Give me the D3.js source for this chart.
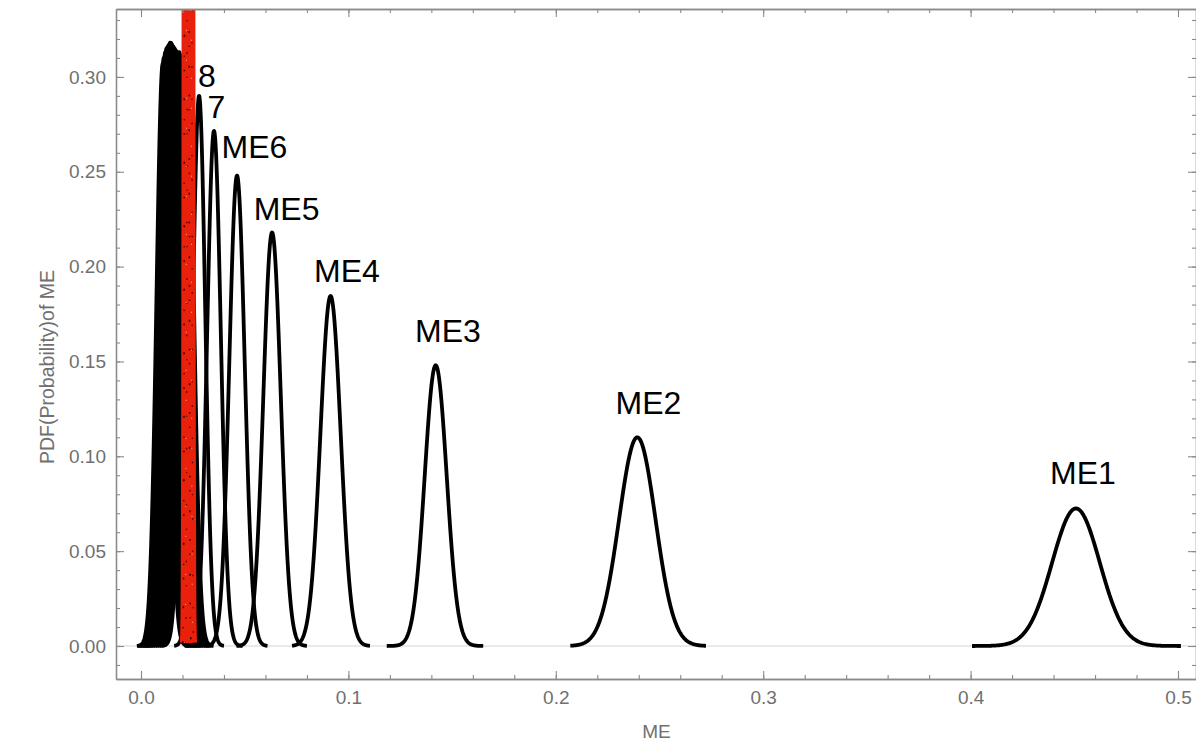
<!DOCTYPE html>
<html>
<head>
<meta charset="utf-8">
<script src="https://cdn.jsdelivr.net/npm/d3@7"></script>
<style>
  body { margin: 0; background: #fff; }
  svg text { font-family: "Liberation Sans", Arial, Helvetica, sans-serif; }
</style>
</head>
<body>
<script>
// Kurvor med etikett (ME1 ... 8)
var curveNames = ["ME1", "ME2", "ME3", "ME4", "ME5", "ME6", "7", "8"];
var curveMeans = [0.4508, 0.2393, 0.1421, 0.0914, 0.0632, 0.0463, 0.0352, 0.0280];
var curvePeaks = [0.0725, 0.1100, 0.1480, 0.1845, 0.2180, 0.2480, 0.2715, 0.2900];
var curveSDs   = [0.0115, 0.0088, 0.0053, 0.0049, 0.0042, 0.0037, 0.0033, 0.0030];
var curveStart = [0.4007, 0.2070, 0.1185, 0.0728, 0.0460, 0.0310, 0.0210, 0.0160];
var curveEnd   = [0.5014, 0.2724, 0.1650, 0.1104, 0.0800, 0.0610, 0.0490, 0.0400];
var labelX     = [0.4542, 0.2447, 0.1480, 0.0993, 0.0702, 0.0547, 0.0364, 0.0318];
var labelY     = [0.0854, 0.1224, 0.1603, 0.1920, 0.2247, 0.2574, 0.2785, 0.2948];

// Klungan av omärkta kurvor nära noll
var clusterMeans = [0.0105, 0.0110, 0.0117, 0.0123, 0.0129, 0.0135, 0.0140, 0.0145, 0.0150,
                    0.0156, 0.0162, 0.0168, 0.0176, 0.0185, 0.0195, 0.0205, 0.0215, 0.0225];
var clusterPeaks = [0.307, 0.310, 0.313, 0.315, 0.316, 0.317, 0.318, 0.318, 0.317,
                    0.316, 0.315, 0.314, 0.313, 0.313, 0.311, 0.310, 0.306, 0.302];
var clusterSD = 0.0030;
var clusterHalfSpan = 0.0125;

// Röd (brusig) kurva
var redMean = 0.0229, redSD = 0.0005, redPeak = 5;

// Axlar
var xMajorTicks = [0, 0.1, 0.2, 0.3, 0.4, 0.5];
var xMinorTicks = d3.range(0, 0.5001, 0.02);
var yMajorTicks = [0, 0.05, 0.10, 0.15, 0.20, 0.25, 0.30];
var yMinorTicks = d3.range(-0.01, 0.3301, 0.01);
var xTitle = "ME";
var yTitle = "PDF(Probability)of ME";

var width = 1196, height = 744;
var plotLeft = 116, plotRight = 1197, plotTop = 9, plotBottom = 679;

var xScale = d3.scaleLinear().domain([-0.01205, 0.50916]).range([plotLeft, plotRight]);
var yScale = d3.scaleLinear().domain([-0.0174, 0.3358]).range([plotBottom, plotTop]);

var svg = d3.select("body").append("svg")
    .attr("width", width)
    .attr("height", height);

svg.append("defs").append("clipPath").attr("id", "plotClip")
  .append("rect")
    .attr("x", plotLeft).attr("y", plotTop)
    .attr("width", plotRight - plotLeft).attr("height", plotBottom - plotTop);

// nollinje
svg.append("line")
    .attr("x1", plotLeft).attr("x2", plotRight)
    .attr("y1", yScale(0)).attr("y2", yScale(0))
    .attr("stroke", "#d4d4d4").attr("stroke-width", 1);

function gauss(mu, sd, peak, x) {
    return peak * Math.exp(-(x - mu) * (x - mu) / (2 * sd * sd));
}

function curvePoints(mu, sd, peak, x0, x1) {
    var pts = [];
    var n = 240;
    for (var i = 0; i <= n; i++) {
        var x = x0 + (x1 - x0) * i / n;
        pts.push([x, gauss(mu, sd, peak, x)]);
    }
    return pts;
}

var line = d3.line()
    .x(function(d) { return xScale(d[0]); })
    .y(function(d) { return yScale(d[1]); });

var plot = svg.append("g").attr("clip-path", "url(#plotClip)");

// klungan
plot.selectAll("path.cluster").data(clusterMeans).enter()
  .append("path")
    .attr("class", "cluster")
    .attr("d", function(mu, i) {
        return line(curvePoints(mu, clusterSD, clusterPeaks[i], mu - clusterHalfSpan, mu + clusterHalfSpan));
    })
    .attr("fill", "none")
    .attr("stroke", "#000")
    .attr("stroke-width", 3.8)
    .attr("stroke-linejoin", "round");

// märkta kurvor
plot.selectAll("path.me").data(curveMeans).enter()
  .append("path")
    .attr("class", "me")
    .attr("d", function(mu, i) {
        return line(curvePoints(mu, curveSDs[i], curvePeaks[i], curveStart[i], curveEnd[i]));
    })
    .attr("fill", "none")
    .attr("stroke", "#000")
    .attr("stroke-width", 3.8)
    .attr("stroke-linejoin", "round");

// röd kurva: tjockt rött band med små mörka och ljusa prickar
var redPath = line(curvePoints(redMean, redSD, redPeak, redMean - 0.002, redMean + 0.002));
plot.append("path")
    .attr("d", redPath)
    .attr("fill", "none")
    .attr("stroke", "#e8200c")
    .attr("stroke-width", 9);
plot.append("path")
    .attr("d", line(curvePoints(redMean - 0.0008, redSD, redPeak, redMean - 0.0028, redMean + 0.0012)))
    .attr("fill", "none")
    .attr("stroke", "#200000")
    .attr("stroke-width", 1.5)
    .attr("stroke-dasharray", "1.5 13 1 19 2 27");
plot.append("path")
    .attr("d", line(curvePoints(redMean + 0.0005, redSD, redPeak, redMean - 0.0015, redMean + 0.0025)))
    .attr("fill", "none")
    .attr("stroke", "#300000")
    .attr("stroke-width", 1.2)
    .attr("stroke-dasharray", "1 23 1.5 31");
plot.append("path")
    .attr("d", line(curvePoints(redMean + 0.0002, redSD, redPeak, redMean - 0.0018, redMean + 0.0022)))
    .attr("fill", "none")
    .attr("stroke", "#ffb0a0")
    .attr("stroke-width", 1)
    .attr("stroke-dasharray", "1 37 1 29");

// etiketter
svg.selectAll("text.lab").data(curveNames).enter()
  .append("text")
    .attr("class", "lab")
    .attr("x", function(d, i) { return xScale(labelX[i]); })
    .attr("y", function(d, i) { return yScale(labelY[i]); })
    .attr("text-anchor", "middle")
    .attr("font-size", 32)
    .attr("fill", "#000")
    .text(function(d) { return d; });

// axlar
var axisColor = "#8a8a8a", textColor = "#707070";

function styleAxis(g) {
    g.select(".domain").attr("stroke", axisColor).attr("stroke-width", 1.3);
    g.selectAll(".tick line").attr("stroke", axisColor).attr("stroke-width", 1.1);
    g.selectAll(".tick text").attr("fill", textColor).attr("font-size", 19)
        .attr("font-family", "Liberation Sans, Arial, sans-serif");
}

// botten
svg.append("g").attr("transform", "translate(0," + plotBottom + ")")
    .call(d3.axisBottom(xScale).tickValues(xMinorTicks).tickSizeInner(-4).tickSizeOuter(0).tickFormat(""))
    .call(styleAxis);
svg.append("g").attr("transform", "translate(0," + plotBottom + ")")
    .call(d3.axisBottom(xScale).tickValues(xMajorTicks).tickSizeInner(-8).tickSizeOuter(0)
        .tickPadding(12).tickFormat(d3.format(".1f")))
    .call(styleAxis);
// topp
svg.append("g").attr("transform", "translate(0," + plotTop + ")")
    .call(d3.axisTop(xScale).tickValues(xMinorTicks).tickSizeInner(-4).tickSizeOuter(0).tickFormat(""))
    .call(styleAxis);
svg.append("g").attr("transform", "translate(0," + plotTop + ")")
    .call(d3.axisTop(xScale).tickValues(xMajorTicks).tickSizeInner(-8).tickSizeOuter(0).tickFormat(""))
    .call(styleAxis);
// vänster
svg.append("g").attr("transform", "translate(" + plotLeft + ",0)")
    .call(d3.axisLeft(yScale).tickValues(yMinorTicks).tickSizeInner(-4).tickSizeOuter(0).tickFormat(""))
    .call(styleAxis);
svg.append("g").attr("transform", "translate(" + plotLeft + ",0)")
    .call(d3.axisLeft(yScale).tickValues(yMajorTicks).tickSizeInner(-8).tickSizeOuter(0)
        .tickPadding(10).tickFormat(d3.format(".2f")))
    .call(styleAxis);
// höger
svg.append("g").attr("transform", "translate(" + (plotRight - 1) + ",0)")
    .call(d3.axisRight(yScale).tickValues(yMinorTicks).tickSizeInner(-4).tickSizeOuter(0).tickFormat(""))
    .call(styleAxis);
svg.append("g").attr("transform", "translate(" + (plotRight - 1) + ",0)")
    .call(d3.axisRight(yScale).tickValues(yMajorTicks).tickSizeInner(-8).tickSizeOuter(0).tickFormat(""))
    .call(styleAxis);

// axeltitlar
svg.append("text")
    .attr("x", (plotLeft + plotRight) / 2)
    .attr("y", 738)
    .attr("text-anchor", "middle")
    .attr("font-size", 19)
    .attr("fill", textColor)
    .text(xTitle);
svg.append("text")
    .attr("transform", "translate(54,367) rotate(-90)")
    .attr("text-anchor", "middle")
    .attr("font-size", 19.5)
    .attr("fill", textColor)
    .text(yTitle);
</script>
</body>
</html>
